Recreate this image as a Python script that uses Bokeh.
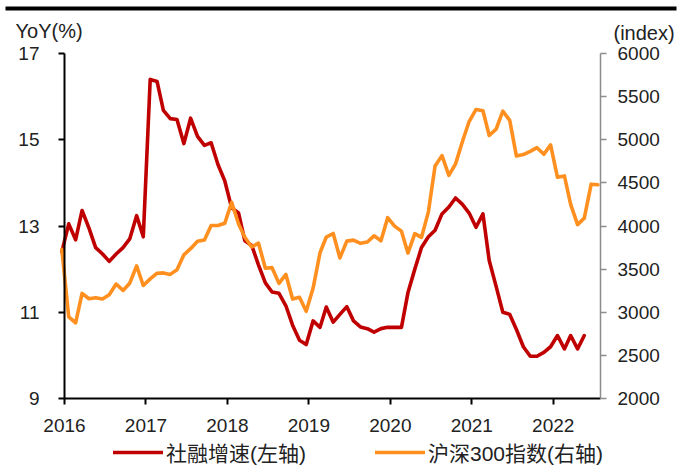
import pandas as pd
from bokeh.plotting import figure
from bokeh.models import (Range1d, LinearAxis, FixedTicker, Legend, Label,
                          LegendItem, ColumnDataSource, BoxAnnotation)
from bokeh.embed import file_html
from bokeh.resources import INLINE

# ---------------- data (monthly, Dec 2015 .. Jul 2022) ----------------
start_month = "2015-12-20"
n_months = 80

# 社融增速 (%), left axis, Dec 2015 .. May 2022
tsf_growth = [12.4, 13.05, 12.68, 13.36, 12.95, 12.5, 12.35, 12.18, 12.35, 12.5,
              12.7, 13.24, 12.75, 16.4, 16.35, 15.68, 15.49, 15.47, 14.91, 15.5,
              15.08, 14.87, 14.93, 14.42, 14.05, 13.42, 13.3, 12.66, 12.55, 12.1,
              11.68, 11.47, 11.44, 11.15, 10.7, 10.35, 10.25, 10.8, 10.65, 11.12,
              10.77, 10.95, 11.13, 10.8, 10.66, 10.62, 10.54, 10.62, 10.65, 10.65,
              10.65, 11.45, 12.0, 12.5, 12.75, 12.9, 13.28, 13.44, 13.65, 13.5,
              13.3, 12.97, 13.28, 12.2, 11.6, 11.0, 10.95, 10.6, 10.2, 9.98,
              9.98, 10.07, 10.2, 10.46, 10.15, 10.46, 10.15, 10.46]

# 沪深300指数, right axis, Dec 2015 .. Jul 2022
csi300 = [3731, 2946, 2877, 3218, 3156, 3169, 3154, 3204, 3327, 3253,
          3336, 3538, 3310, 3387, 3453, 3456, 3439, 3493, 3666, 3737,
          3822, 3837, 4006, 4006, 4031, 4275, 4023, 3870, 3757, 3802,
          3510, 3517, 3335, 3438, 3153, 3173, 3011, 3280, 3690, 3872,
          3913, 3630, 3825, 3836, 3799, 3814, 3886, 3829, 4097, 3999,
          3940, 3686, 3912, 3868, 4164, 4695, 4816, 4587, 4720, 4980,
          5211, 5351, 5336, 5049, 5123, 5332, 5224, 4811, 4828, 4866,
          4908, 4832, 4940, 4564, 4581, 4250, 4016, 4091, 4485, 4478]

x_years = [2016, 2017, 2018, 2019, 2020, 2021, 2022]
left_ticks = [9, 11, 13, 15, 17]
right_ticks = [2000, 2500, 3000, 3500, 4000, 4500, 5000, 5500, 6000]

red_name = "社融增速(左轴)"
orange_name = "沪深300指数(右轴)"
left_title = "YoY(%)"
right_title = "(index)"

# ---------------- layout constants (pixels) ----------------
W, H = 678, 467
AX_L, AX_R, AX_T, AX_B = 64, 600, 53, 398      # axis box on the canvas
X0, X1 = 2016, 2022.58                          # x axis extent (years)
YL0, YL1 = left_ticks[0], left_ticks[-1]
YR0, YR1 = right_ticks[0], right_ticks[-1]

kx = (AX_R - AX_L) / (X1 - X0)
kl = (AX_B - AX_T) / (YL1 - YL0)
kr = (AX_B - AX_T) / (YR1 - YR0)

def px_x(px):
    return X0 + (px - AX_L) / kx

def px_yl(py):
    return YL1 + (AX_T - py) / kl

def px_yr(py):
    return YR1 + (AX_T - py) / kr

# ---------------- positions of the monthly points ----------------
dates = pd.date_range(start_month, periods=n_months, freq=pd.DateOffset(months=1))
frac = [d.year + (d.dayofyear - 1) / (366 if d.is_leap_year else 365) for d in dates]

src_red = ColumnDataSource(dict(x=frac[:len(tsf_growth)], y=tsf_growth))
src_org = ColumnDataSource(dict(x=frac[:len(csi300)], y=csi300))

RED = "#C00000"
ORANGE = "#FF8F1F"
FONT = "Liberation Sans"
CJK = "Liberation Sans, Noto Sans CJK SC"
TXT = "#222222"

p = figure(width=W, height=H,
           x_range=Range1d(px_x(0), px_x(W)),
           y_range=Range1d(px_yl(H), px_yl(0)),
           output_backend="svg", toolbar_location=None,
           min_border=0, min_border_left=0, min_border_right=0,
           min_border_top=0, min_border_bottom=0,
           outline_line_color=None, background_fill_color="white",
           border_fill_color="white", x_axis_type=None, y_axis_type=None)
p.extra_y_ranges = {"right": Range1d(px_yr(H), px_yr(0))}
p.xgrid.visible = False
p.ygrid.visible = False

r_red = p.line("x", "y", source=src_red, color=RED, line_width=3.6,
               line_join="round", line_cap="round")
r_org = p.line("x", "y", source=src_org, color=ORANGE, line_width=3.6,
               line_join="round", line_cap="round", y_range_name="right")

def style(ax, color, lw):
    ax.axis_line_color = color
    ax.axis_line_width = lw
    ax.major_tick_line_color = color
    ax.major_tick_line_width = lw
    ax.major_tick_out = 6
    ax.major_tick_in = 0
    ax.minor_tick_out = 0
    ax.minor_tick_in = 0
    ax.major_label_text_font = FONT
    ax.major_label_text_font_size = "19px"
    ax.major_label_text_color = TXT

xa = LinearAxis(ticker=FixedTicker(ticks=x_years), fixed_location=YL0,
                bounds=(X0, X1))
xa.major_label_overrides = {y: str(y) for y in x_years}
style(xa, "black", 2)
xa.major_label_standoff = 14
p.add_layout(xa, "below")

ya = LinearAxis(ticker=FixedTicker(ticks=left_ticks), fixed_location=X0,
                bounds=(YL0, YL1))
style(ya, "black", 2)
ya.major_label_standoff = 19
p.add_layout(ya, "left")

ra = LinearAxis(y_range_name="right", ticker=FixedTicker(ticks=right_ticks),
                fixed_location=X1, bounds=(YR0, YR1))
style(ra, "#8C8C8C", 1.5)
ra.major_label_standoff = 11
p.add_layout(ra, "right")

# axis titles
p.add_layout(Label(x=px_x(15), y=px_yl(30), text=left_title, text_font=FONT,
                   text_font_size="20px", text_color=TXT,
                   text_align="left", text_baseline="middle"))
p.add_layout(Label(x=px_x(613), y=px_yr(32), y_range_name="right",
                   text=right_title, text_font=FONT, text_font_size="20px",
                   text_color=TXT, text_align="left", text_baseline="middle"))

# top rule
p.add_layout(BoxAnnotation(left=px_x(5), right=px_x(676),
                           top=px_yl(6), bottom=px_yl(10),
                           fill_color="black", fill_alpha=1, line_alpha=0))

# series legends below the x axis
def make_legend(label, r, x):
    return Legend(items=[LegendItem(label=label, renderers=[r])],
                  location=(x, 0), orientation="horizontal",
                  label_text_font=CJK, label_text_font_size="21px",
                  label_text_color=TXT, glyph_width=50, glyph_height=20,
                  label_standoff=3, label_height=21, padding=0, margin=0,
                  spacing=0, border_line_alpha=0, background_fill_alpha=0)

p.add_layout(make_legend(red_name, r_red, 113))
p.add_layout(make_legend(orange_name, r_org, 375))

open("out.html", "w").write(file_html(p, INLINE))
